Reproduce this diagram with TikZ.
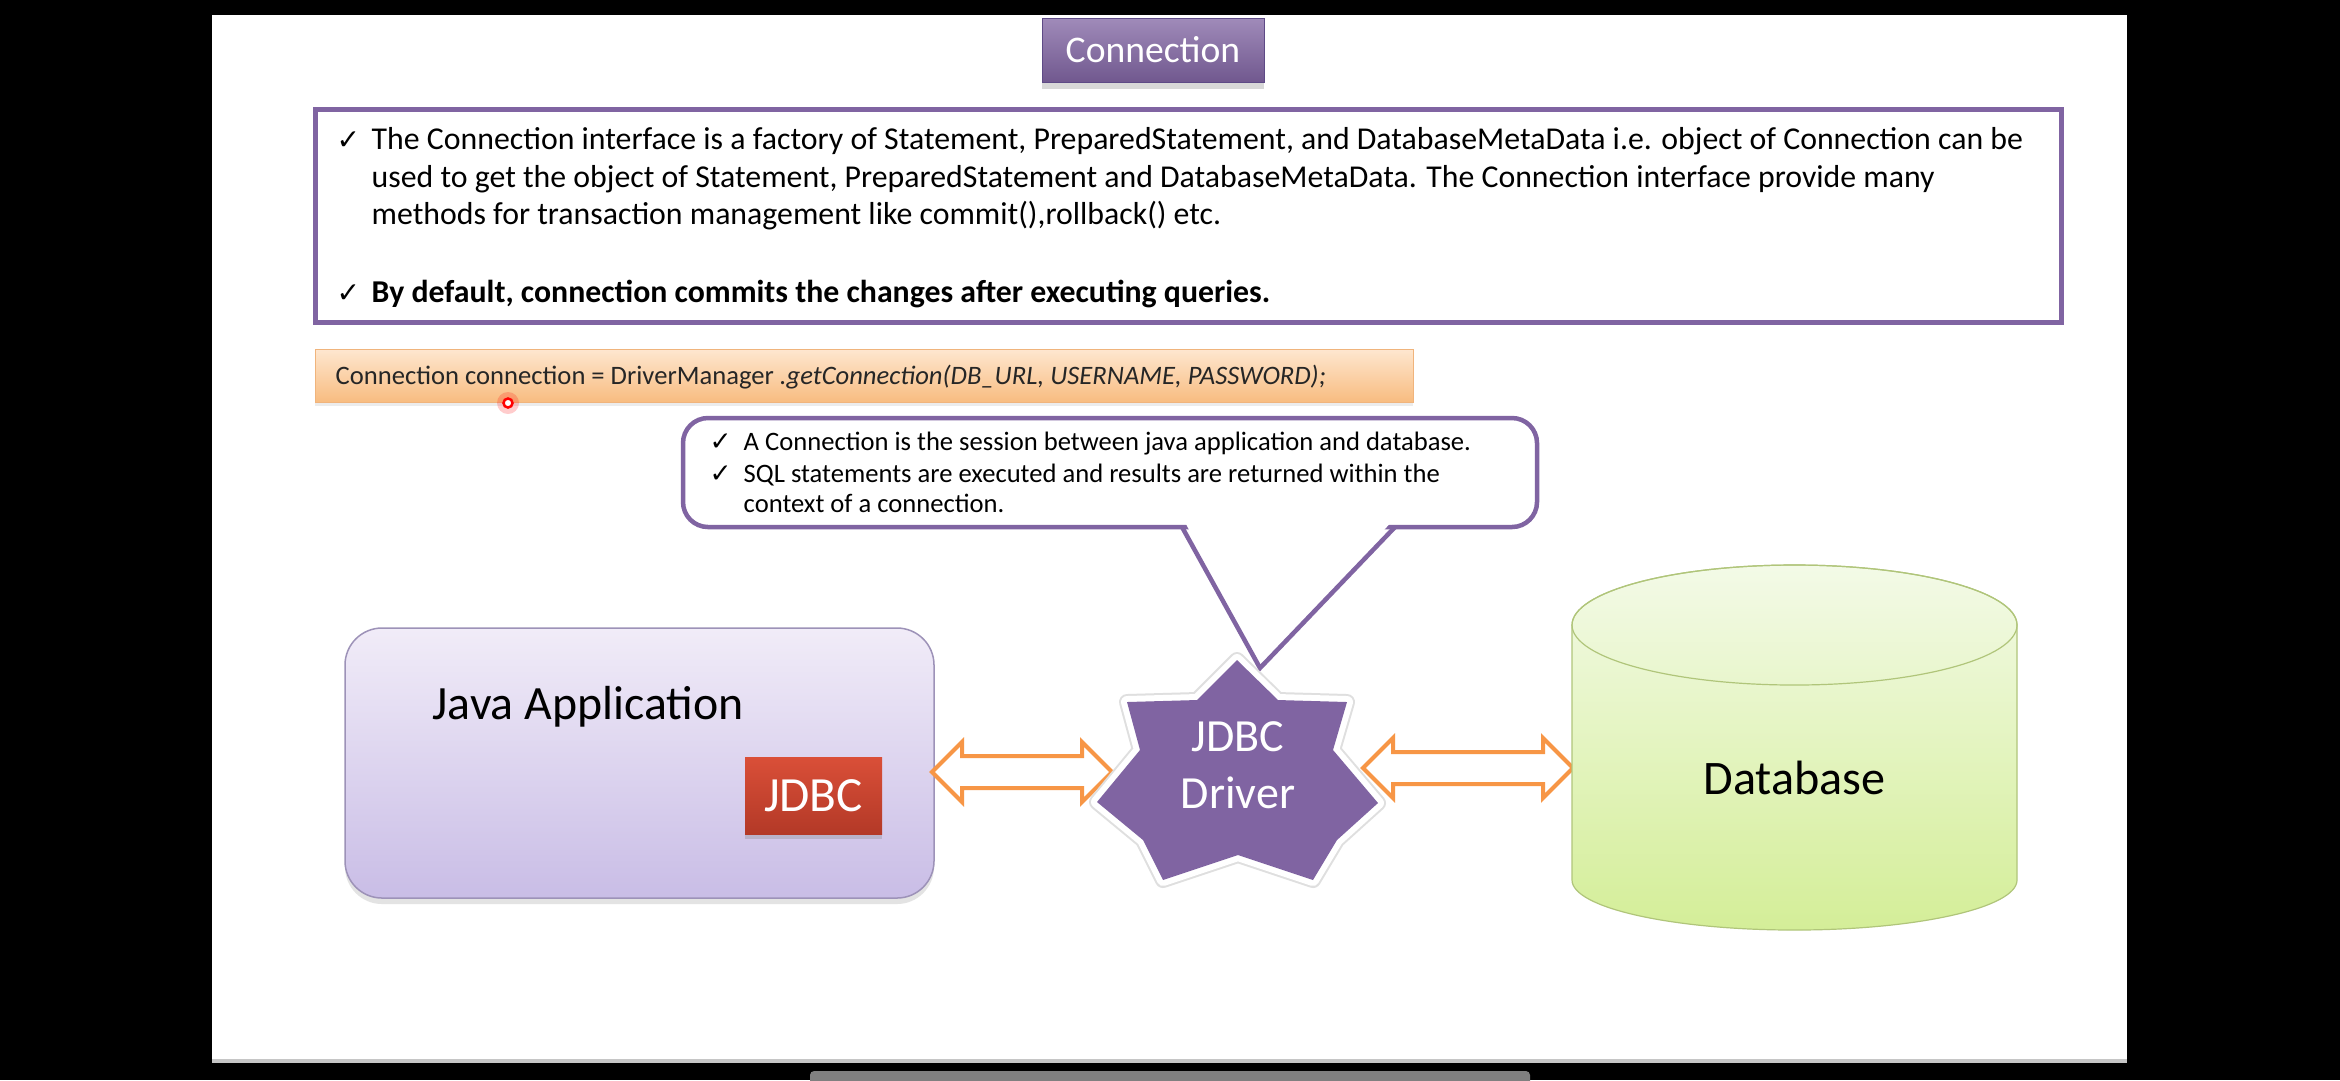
\documentclass[tikz,border=0pt]{standalone}
\usepackage{fontspec}
\setmainfont{Carlito}
\newfontfamily\symfont{DejaVu Sans}
\usepackage{xcolor}
\usetikzlibrary{shapes.arrows,shadows}

\definecolor{jpurple}{HTML}{8064A2}
\definecolor{jpurpledark}{HTML}{5E4A86}
\definecolor{arroworange}{HTML}{F79646}
\definecolor{codetop}{HTML}{FEE7D0}
\definecolor{codebot}{HTML}{F8BC80}
\definecolor{codeedge}{HTML}{F0B47C}
\definecolor{apptop}{HTML}{F1ECF8}
\definecolor{appbot}{HTML}{C9BDE6}
\definecolor{appedge}{HTML}{9D92B8}
\definecolor{jdbctop}{HTML}{DA4F38}
\definecolor{jdbcbot}{HTML}{B33927}
\definecolor{dbtop}{HTML}{F3FAE7}
\definecolor{dbbot}{HTML}{D4EE98}
\definecolor{dbedge}{HTML}{B0C57A}

\newcommand{\chk}{{\symfont\fontsize{8}{9}\selectfont ✓}}
\newcommand{\smallchk}{{\symfont\fontsize{7.5}{9}\selectfont ✓}}

\begin{document}
\begin{tikzpicture}[x=0.1mm, y=-0.1mm,
  every node/.style={inner sep=0pt},
  bodytxt/.style={anchor=base west, font=\fontsize{9.05}{11}\selectfont},
  notetxt/.style={anchor=base west, font=\fontsize{7.57}{9}\selectfont},
  titlebtn/.style={rectangle, draw=jpurpledark, line width=0.1mm, top color=jpurple!75!white, bottom color=jpurple!88!black,
    text=white, font=\fontsize{10.7}{12}\selectfont, minimum width=22.2mm, minimum height=6.4mm,
    drop shadow={opacity=0.3, shadow xshift=0mm, shadow yshift=-0.7mm}},
  infobox/.style={rectangle, draw=jpurple, line width=0.5mm, fill=white, minimum width=174.6mm, minimum height=21.3mm},
  codebar/.style={rectangle, draw=codeedge, line width=0.1mm, top color=codetop, bottom color=codebot,
    minimum width=109.8mm, minimum height=5.3mm,
    drop shadow={opacity=0.15, shadow xshift=0mm, shadow yshift=-0.4mm}},
  callbox/.style={rectangle, rounded corners=2.5mm, draw=jpurple, line width=0.45mm, fill=white,
    minimum width=85.4mm, minimum height=10.9mm},
  callline/.style={draw=jpurple, line width=0.45mm},
  appbox/.style={rectangle, rounded corners=3.7mm, draw=appedge, line width=0.15mm, top color=apptop, bottom color=appbot,
    minimum width=58.9mm, minimum height=27mm,
    drop shadow={opacity=0.22, shadow xshift=0mm, shadow yshift=-0.6mm}},
  jdbcbox/.style={rectangle, top color=jdbctop, bottom color=jdbcbot, text=white,
    font=\fontsize{14}{16}\selectfont, minimum width=13.7mm, minimum height=7.7mm,
    drop shadow={opacity=0.3, shadow xshift=0mm, shadow yshift=-0.5mm}},
  dblarrow/.style={double arrow, draw=arroworange, line width=0.4mm, fill=white, inner xsep=0pt, inner ysep=1.4mm,
    double arrow head extend=1.4mm},
  bigtxt/.style={font=\fontsize{13.6}{15}\selectfont}]

\useasboundingbox (0,0) rectangle (2340,1080);

% screen and slide
\fill[black] (0,0) rectangle (2340,1080);
\fill[white] (212,15) rectangle (2127,1062);
\fill[gray!45] (212,1059) rectangle (2127,1063);
\fill[gray, rounded corners=0.4mm] (810,1071) rectangle (1530,1086);

% heading
\node[titlebtn] (title) at (1153,50) {Connection};

% info box
\node[infobox] (info) at (1188,215.5) {};
\node[bodytxt] (chk1) at (336,149) {\chk};
\node[bodytxt] (l1) at (371,149) {The Connection interface is a factory of Statement, PreparedStatement, and DatabaseMetaData i.e. object of Connection can be};
\node[bodytxt] (l2) at (371,187) {used to get the object of Statement, PreparedStatement and DatabaseMetaData. The Connection interface provide many};
\node[bodytxt] (l3) at (371,224) {methods for transaction management like commit(),rollback() etc.};
\node[bodytxt] (chk2) at (336,302) {\chk};
\node[bodytxt, font=\fontsize{9.05}{11}\selectfont\bfseries] (l4) at (371,302) {By default, connection commits the changes after executing queries.};

% code line
\node[codebar] (code) at (864,375.5) {};
\node[anchor=base west, font=\fontsize{7.57}{9}\selectfont, text=black!85] (codetxt) at (335,384)
  {Connection connection = DriverManager \textit{.getConnection(DB\_URL, USERNAME, PASSWORD);}};
\fill[red, opacity=0.2] (508,403) circle (1.1mm);
\node[circle, draw=red, line width=0.25mm, fill=white, minimum size=0.9mm] (dot) at (508,403) {};

% callout
\coordinate (tip) at (1260,668);
\node[callbox] (note) at (1110,472.5) {};
\fill[white] (1184,520) -- (tip) -- (1393,520) -- cycle;
\draw[callline] (1182,527) -- (tip) -- (1395,527);
\node[notetxt] (chk3) at (709,450) {\smallchk};
\node[notetxt] (n1) at (743,450) {A Connection is the session between java application and database.};
\node[notetxt] (chk4) at (709,482) {\smallchk};
\node[notetxt] (n2) at (743,482) {SQL statements are executed and results are returned within the};
\node[notetxt] (n3) at (743,512) {context of a connection.};

% java application
\node[appbox] (app) at (639.5,763) {};
\node[bigtxt, anchor=base west] (apptxt) at (432,719) {Java Application};
\node[jdbcbox] (jdbc) at (813.5,795.5) {JDBC};

% arrows
\node[dblarrow, minimum height=18mm] (a1) at (1022,772) {};
\node[dblarrow, minimum height=21mm] (a2) at (1468,768) {};

% driver star
\draw[gray!25, line width=1.6mm, line join=round] (1237,660) -- (1278,700) -- (1347,702) -- (1333,750) -- (1378,803) -- (1337,840) -- (1313,880) -- (1238,855) -- (1163,880) -- (1143,840) -- (1097,802) -- (1140,750) -- (1127,702) -- (1197,700) -- cycle;
\draw[white, line width=1.2mm, line join=round] (1237,660) -- (1278,700) -- (1347,702) -- (1333,750) -- (1378,803) -- (1337,840) -- (1313,880) -- (1238,855) -- (1163,880) -- (1143,840) -- (1097,802) -- (1140,750) -- (1127,702) -- (1197,700) -- cycle;
\fill[jpurple] (1237,660) -- (1278,700) -- (1347,702) -- (1333,750) -- (1378,803) -- (1337,840) -- (1313,880) -- (1238,855) -- (1163,880) -- (1143,840) -- (1097,802) -- (1140,750) -- (1127,702) -- (1197,700) -- cycle;
\node[align=center, text=white, font=\fontsize{13.1}{16.2}\selectfont] (drv) at (1238,765) {JDBC\\Driver};

% database
\draw[draw=dbedge, line width=0.12mm, top color=dbtop, bottom color=dbbot] (1572,625) -- (1572,880)
  arc[start angle=180, end angle=0, x radius=222.5, y radius=50] -- (2017,625)
  arc[start angle=0, end angle=-180, x radius=222.5, y radius=60] -- cycle;
\draw[draw=dbedge, line width=0.12mm] (1794.5,625) ellipse[x radius=222.5, y radius=60];
\node[bigtxt, font=\fontsize{13.7}{15}\selectfont] (db) at (1794.5,778) {Database};

\end{tikzpicture}
\end{document}
